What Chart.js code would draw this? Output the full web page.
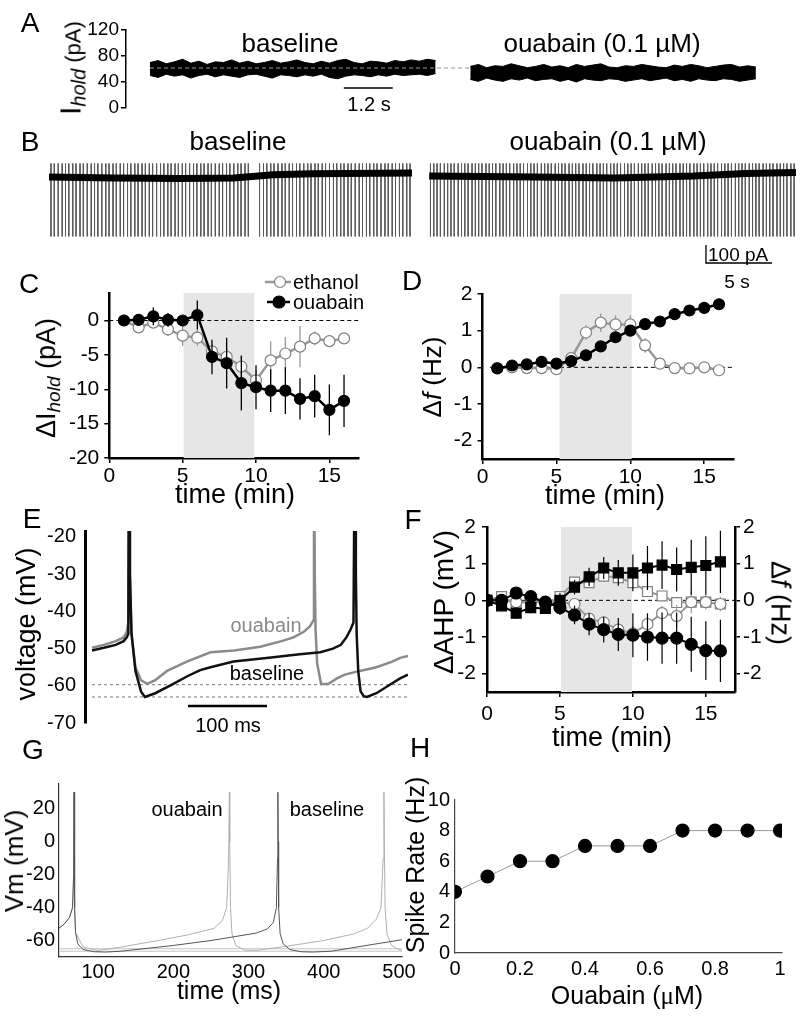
<!DOCTYPE html>
<html>
<head>
<meta charset="utf-8">
<script src="https://cdn.jsdelivr.net/npm/chart.js@4.4.0/dist/chart.umd.min.js"></script>
<style>
  html, body { margin: 0; padding: 0; background: #fff; }
  body { position: relative; width: 800px; height: 1016px; overflow: hidden; font-family: "Liberation Sans", Arial, sans-serif; }
  canvas { position: absolute; left: 0; top: 0; }
  .lbl { position: absolute; white-space: nowrap; line-height: 1; color: #000; z-index: 5; }
  .lbl sub { font-size: 0.72em; vertical-align: -0.25em; }
</style>
</head>
<body>
<canvas id="cA" width="800" height="1016"></canvas>
<canvas id="cB" width="800" height="1016"></canvas>
<canvas id="cC" width="800" height="1016"></canvas>
<canvas id="cD" width="800" height="1016"></canvas>
<canvas id="cE" width="800" height="1016"></canvas>
<canvas id="cF" width="800" height="1016"></canvas>
<canvas id="cG" width="800" height="1016"></canvas>
<canvas id="cH" width="800" height="1016"></canvas>
<script>
const W = 800, H = 1016;
Chart.defaults.font.family = '"Liberation Sans", Arial, sans-serif';
Chart.defaults.color = '#000';

// ---------- data ----------
// A: holding current, noise envelope (pA), one sample every 0.2 s
const aStep = 0.2;
const aBaseStart = 0, aOuaStart = 7.85;
const aBaseUpper = [70,73,68,71,75,69,72,67,71,70,74,69,72,68,70,73,69,71,74,70,68,72,69,73,75,70,68,72,71,69,73,71,74,72,75,73];
const aBaseLower = [50,47,52,49,51,46,50,52,48,51,49,47,51,52,49,46,51,50,48,51,49,52,47,45,49,51,50,48,51,49,52,50,51,52,50,53];
const aOuaUpper = [64,67,62,65,64,68,65,62,64,67,63,65,62,67,64,66,68,63,62,65,64,67,65,63,62,66,64,67,65,62,64,66,67,63,65,63];
const aOuaLower = [44,41,46,43,41,45,43,46,42,44,45,41,44,40,45,43,42,45,44,41,43,45,42,44,46,42,44,41,45,43,42,45,44,41,43,45];
const aMeanLevel = 61.5;

// B: spike times (s) in each cell-attached sweep
const bSpikes1 = [0.15,0.4,0.7,1.0,1.25,1.5,1.8,2.05,2.35,2.6,2.9,3.2,3.45,3.7,4.0,4.3,4.55,4.85,5.1,5.4,5.65,5.95,6.2,6.5,6.75,7.05,7.3,7.6,7.85,8.15,8.45,8.7,9.0,9.25,9.55,9.8,10.1,10.35,10.65,10.95,11.2,11.5,11.75,12.05,12.3,12.6,12.9,13.15,13.45,13.7,14.0,14.3,14.55,14.85,15.1,15.95,16.25,16.5,16.8,17.05,17.35,17.65,17.9,18.2,18.45,18.75,19.0,19.3,19.6,19.85,20.15,20.4,20.7,20.95,21.25,21.55,21.8,22.1,22.35,22.65,22.9,23.2,23.5,23.75,24.05,24.3,24.6,24.85,25.15,25.45,25.7,26.0,26.25,26.55,26.8,27.1,27.35];
const bSpikes2 = [0.1,0.35,0.6,0.85,1.15,1.4,1.65,1.9,2.2,2.45,2.7,2.95,3.25,3.5,3.75,4.0,4.3,4.55,4.8,5.05,5.35,5.6,5.85,6.1,6.4,6.65,6.9,7.15,7.45,7.7,7.95,8.2,8.5,8.75,9.0,9.25,9.55,9.8,10.05,10.3,10.6,10.85,11.1,11.35,11.65,11.9,12.15,12.4,12.7,12.95,13.2,13.45,13.75,14.0,14.25,14.5,14.8,15.05,15.3,15.55,15.85,16.1,16.35,16.6,16.9,17.15,17.4,17.65,17.95,18.2,18.45,18.7,19.0,19.25,19.5,19.75,20.05,20.3,20.55,20.8,21.1,21.35,21.6,21.85,22.15,22.4,22.65,22.9,23.2,23.45,23.7,23.95,24.25,24.5,24.75,25.0,25.3,25.55,25.8,26.05,26.35,26.6,26.85,27.1,27.4,27.65];
const bSpikeUp = 75, bSpikeDown = -330;
const bDriftT1 = [0, 5, 10, 14, 17, 20, 27.5];
const bDrift1 = [0, -5, -8, -6, 12, 18, 22];
const bDriftT2 = [0, 8, 14, 20, 24, 27.8];
const bDrift2 = [5, 0, -5, 5, 20, 25];
const bSweep2Start = 28.8;

// C: change in holding current (pA) per minute
const cTime = [1,2,3,4,5,6,7,8,9,10,11,12,13,14,15,16];
const cOuabain = [0, 0.1, 0.6, 0.1, 0, 0.8, -5.3, -6.2, -9.1, -9.7, -10.2, -10.2, -11.4, -11.0, -13.0, -11.7];
const cOuabainErr = [0.3, 0.5, 1.3, 1.0, 0.6, 2.1, 2.5, 3.7, 4.0, 3.2, 3.1, 3.4, 3.0, 3.1, 3.7, 3.8];
const cEthanol = [0, -1.0, -0.3, -1.3, -2.2, -2.5, -4.5, -5.3, -6.7, -8.7, -5.8, -4.8, -3.8, -2.6, -3.0, -2.6];
const cEthanolErr = [0.3, 0.5, 0.8, 1.0, 1.5, 1.2, 1.0, 1.2, 1.5, 1.5, 2.8, 2.4, 3.0, 1.0, 0.8, 0.6];

// D: change in firing frequency (Hz)
const dTime = [1,2,3,4,5,6,7,8,9,10,11,12,13,14,15,16];
const dOuabain = [-0.03, 0.05, 0.08, 0.15, 0.1, 0.17, 0.33, 0.57, 0.82, 1.0, 1.18, 1.25, 1.45, 1.55, 1.62, 1.72];
const dOuabainErr = [0.05, 0.05, 0.05, 0.06, 0.06, 0.06, 0.08, 0.08, 0.1, 0.1, 0.1, 0.1, 0.1, 0.1, 0.1, 0.1];
const dEthanol = [-0.02, 0.0, -0.02, -0.02, -0.05, 0.25, 0.95, 1.22, 1.17, 1.17, 0.6, 0.1, -0.02, -0.03, 0.0, -0.08];
const dEthanolErr = [0.05, 0.05, 0.05, 0.05, 0.05, 0.1, 0.2, 0.25, 0.25, 0.25, 0.2, 0.1, 0.05, 0.05, 0.05, 0.05];

// E: example voltage traces (ms, mV)
const eOuaT = [0,15,30,40,44,46,47,48,50,55,62,70,80,95,120,150,180,213,240,255,268,276,280,281,282,283,285,290,299,310,320,339,360,380,390,400];
const eOuaV = [-49.8,-49,-48,-47,-45.5,-43,20,-30,-46,-55,-58.5,-59.5,-58.5,-56,-53.5,-51,-50.5,-49.5,-48,-47,-45.5,-44,-42.5,20,-30,-45,-54,-59.5,-59.5,-58,-57,-56,-55,-53.5,-52.5,-52];
const eBaseT = [0,15,30,40,44,46,47,48,50,55,62,67,80,103,120,137,150,179,221,263,289,305,315,322,327,331,333,334,335,337,340,344,348,360,375,390,400];
const eBaseV = [-50.5,-49.8,-49,-48,-47,-46,20,-30,-46,-56,-61.5,-63,-62,-59.5,-57.5,-55.8,-55,-53.5,-52.5,-51.5,-51,-50,-49,-47,-45,-43,20,-30,-46,-56,-61.5,-62.8,-63,-62,-60,-58,-57];
const eAhpOua = -59.7, eAhpBase = -63;

// F: AHP (squares, left axis) and frequency (circles, right axis)
const fTime = [0,1,2,3,4,5,6,7,8,9,10,11,12,13,14,15,16];
const fAhpOua = [0, -0.15, -0.35, -0.2, -0.22, 0, 0.36, 0.64, 0.88, 0.75, 0.75, 0.88, 0.96, 0.84, 0.9, 0.95, 1.05];
const fAhpOuaErr = [0.1, 0.15, 0.15, 0.15, 0.15, 0.2, 0.2, 0.25, 0.3, 0.35, 0.5, 0.6, 0.65, 0.6, 0.75, 0.8, 0.85];
const fAhpEth = [0, 0.1, -0.1, 0, -0.1, 0.1, 0.5, 0.48, 0.66, 0.62, 0.48, 0.24, 0.12, -0.06, -0.05, -0.05, -0.1];
const fAhpEthErr = [0.1, 0.1, 0.1, 0.1, 0.1, 0.12, 0.12, 0.12, 0.15, 0.15, 0.15, 0.12, 0.12, 0.1, 0.1, 0.1, 0.1];
const fFreqOua = [0, 0, 0.2, 0.1, -0.05, -0.2, -0.4, -0.65, -0.8, -0.93, -0.95, -1.0, -1.03, -1.03, -1.2, -1.37, -1.38];
const fFreqOuaErr = [0.1, 0.1, 0.15, 0.15, 0.15, 0.2, 0.25, 0.3, 0.35, 0.45, 0.6, 0.65, 0.7, 0.7, 0.75, 0.8, 0.85];
const fFreqEth = [0, 0, -0.05, -0.05, -0.05, -0.05, -0.1, -0.5, -0.6, -0.8, -0.9, -0.65, -0.35, -0.43, -0.05, -0.05, -0.1];
const fFreqEthErr = [0.1, 0.1, 0.1, 0.1, 0.1, 0.1, 0.1, 0.15, 0.15, 0.15, 0.2, 0.25, 0.2, 0.3, 0.3, 0.2, 0.2];

// G: model traces (ms, mV)
const gBaseT = [48,55,62,66,67.5,68,68.5,69,70,73,80,95,110,130,200,250,290,310,325,333,337,338.5,339,339.5,340,342,346,355,370,385,410,450,504];
const gBaseV = [-52.5,-50,-46,-40,-20,30,0,-40,-55,-62,-65.5,-66.8,-67,-66.5,-63,-60,-57,-55.5,-53,-49,-40,-10,30,0,-40,-56,-62,-65.5,-66.8,-67,-66.5,-63.5,-59.5];
const gOuaT = [48,55,62,66,67.5,68,68.5,69,70,80,100,130,180,220,254,265,271,273.5,274.5,275,276,278,283,295,310,350,400,440,458,470,476,479,480,480.5,481.5,484,490,500,504];
const gOuaV = [-52.5,-50,-46,-40,-20,30,0,-40,-55,-64,-66,-64,-60,-56.5,-52.6,-48,-40,-10,30,0,-40,-56,-63,-65.8,-66,-63.5,-60,-56,-52.6,-47,-40,-10,30,0,-40,-56,-63,-65.5,-66];
const gFloor = [-65, -66.5];

// H: model spike rate vs ouabain
const hOuabain = [0, 0.1, 0.2, 0.3, 0.4, 0.5, 0.6, 0.7, 0.8, 0.9, 1.0];
const hRate = [4, 5, 6, 6, 7, 7, 7, 8, 8, 8, 8];

// ---------- helpers ----------
function pts(xs, ys) { return xs.map((x, i) => ({ x: x, y: ys[i] })); }
function errSegs(xs, ys, es) {
  const out = [];
  xs.forEach((x, i) => { out.push({ x: x, y: ys[i] - es[i] }, { x: x, y: ys[i] + es[i] }, { x: x, y: null }); });
  return out;
}
function spikeSegs(ts, offset) {
  const out = [];
  ts.forEach(t => { out.push({ x: t + offset, y: bSpikeUp }, { x: t + offset, y: bSpikeDown }, { x: t + offset, y: null }); });
  return out;
}
function sampled(start, vals) { return vals.map((v, i) => ({ x: start + i * aStep, y: v })); }

function pad(area, yW, xH, rW) {
  return { left: area[0] - yW, top: area[1], right: W - area[2] - (rW || 0), bottom: H - area[3] - xH };
}
function axis(o) {
  const horiz = o.pos === 'bottom';
  const tl = o.tickLen || 0;
  const a = {
    type: 'linear', position: o.pos, min: o.min, max: o.max,
    display: o.show !== false,
    afterBuildTicks: s => { s.ticks = (o.ticks || []).map(v => ({ value: v })); },
    border: { display: true, color: o.color || '#000', width: o.border || 2.5 },
    grid: { display: tl > 0, drawOnChartArea: false, drawTicks: tl > 0, tickLength: tl, color: o.color || '#000', lineWidth: 1.5 },
    ticks: { font: { size: o.font || 21 }, padding: o.pad || 3, color: '#000', callback: v => String(v), maxRotation: 0, autoSkip: false }
  };
  if (o.fit !== undefined) {
    a.afterFit = s => { if (horiz) s.height = o.fit; else s.width = o.fit; };
  }
  return a;
}
function base(area, yW, xH, rW, extraPlugins) {
  return {
    responsive: false, animation: false, events: [],
    layout: { padding: pad(area, yW, xH, rW) },
    plugins: Object.assign({ legend: { display: false }, tooltip: { enabled: false } }, extraPlugins || {}),
    elements: { line: { tension: 0 }, point: { radius: 0 } }
  };
}
function line(data, o) {
  return Object.assign({ data: data, borderColor: '#000', borderWidth: 1, pointRadius: 0, fill: false, spanGaps: false }, o);
}
function markers(data, o) {
  return Object.assign({ data: data, borderColor: '#000', borderWidth: 2.5, pointRadius: 5.5, pointStyle: 'circle',
    pointBackgroundColor: '#000', pointBorderColor: '#000', pointBorderWidth: 1.2, fill: false }, o);
}
function shade(x0, x1, top, yAxisID) {
  return line([{ x: x0, y: top }, { x: x1, y: top }], { borderWidth: 0, fill: 'start', backgroundColor: '#e6e6e6', order: 30, yAxisID: yAxisID || 'y' });
}
function zeroLine(x0, x1, yAxisID) {
  return line([{ x: x0, y: 0 }, { x: x1, y: 0 }], { borderDash: [4, 3], borderWidth: 1, order: 29, yAxisID: yAxisID || 'y' });
}

const legendSymbols = {
  id: 'legendSymbols',
  afterDraw(chart, args, opts) {
    const ctx = chart.ctx;
    (opts.items || []).forEach(it => {
      ctx.save();
      ctx.strokeStyle = it.line; ctx.lineWidth = 2.5;
      ctx.beginPath(); ctx.moveTo(it.x0, it.y); ctx.lineTo(it.x1, it.y); ctx.stroke();
      ctx.beginPath(); ctx.arc(it.cx, it.y, it.r, 0, Math.PI * 2);
      ctx.fillStyle = it.fill; ctx.fill();
      ctx.lineWidth = 1.2; ctx.strokeStyle = it.stroke; ctx.stroke();
      ctx.restore();
    });
  }
};

function label(html, x, y, size, o) {
  o = o || {};
  const d = document.createElement('div');
  d.className = 'lbl';
  d.innerHTML = html;
  d.style.left = x + 'px';
  d.style.top = y + 'px';
  d.style.fontSize = size + 'px';
  if (o.color) d.style.color = o.color;
  const tx = o.align === 'left' ? '0' : '-50%';
  d.style.transform = 'translate(' + tx + ',-50%) rotate(' + (o.rot || 0) + 'deg)';
  document.body.appendChild(d);
}

// ---------- A ----------
(function () {
  const area = [126, 30, 790, 108];
  const xmin = -(150 - 126) / 40.8;
  const opt = base(area, 60, 0, 0);
  opt.scales = {
    x: axis({ pos: 'bottom', show: false, min: xmin, max: xmin + (790 - 126) / 40.8 }),
    y: axis({ pos: 'left', min: 0, max: 120, ticks: [0, 40, 80, 120], fit: 60, tickLen: 5, border: 1.5, font: 19, pad: 2 })
  };
  new Chart(document.getElementById('cA'), {
    type: 'line',
    data: { datasets: [
      line(sampled(aBaseStart, aBaseUpper), { fill: '+1', backgroundColor: '#000', order: 5 }),
      line(sampled(aBaseStart, aBaseLower), { order: 5 }),
      line(sampled(aOuaStart, aOuaUpper), { fill: '+1', backgroundColor: '#000', order: 5 }),
      line(sampled(aOuaStart, aOuaLower), { order: 5 }),
      line([{ x: 0, y: aMeanLevel }, { x: aOuaStart, y: aMeanLevel }], { borderColor: '#9a9a9a', borderDash: [4, 3], order: 1 }),
      line([{ x: 4.75, y: 30.8 }, { x: 5.95, y: 30.8 }], { borderWidth: 1.5, order: 1 })
    ] },
    options: opt
  });
})();

// ---------- B ----------
(function () {
  const area = [49, 150, 796, 270];
  const opt = base(area, 0, 0, 0);
  opt.scales = {
    x: axis({ pos: 'bottom', show: false, min: 0, max: (796 - 49) / 13.2 }),
    y: axis({ pos: 'left', show: false, min: -516.7, max: 150 })
  };
  new Chart(document.getElementById('cB'), {
    type: 'line',
    data: { datasets: [
      line(spikeSegs(bSpikes1, 0), { borderColor: '#5a5a5a', borderWidth: 1, order: 5 }),
      line(spikeSegs(bSpikes2, bSweep2Start), { borderColor: '#5a5a5a', borderWidth: 1, order: 5 }),
      line(pts(bDriftT1, bDrift1), { borderWidth: 7, order: 2 }),
      line(pts(bDriftT2.map(t => t + bSweep2Start), bDrift2), { borderWidth: 7, order: 2 }),
      line([{ x: 49.77, y: -377.8 }, { x: 49.77, y: -477.8 }, { x: 54.77, y: -477.8 }], { borderWidth: 1.3, order: 1 })
    ] },
    options: opt
  });
})();

// ---------- C ----------
(function () {
  const area = [109.3, 293, 358.7, 458];
  const opt = base(area, 60, 40, 0, { legendSymbols: { items: [
    { x0: 265, x1: 291, cx: 280, y: 282, r: 5.5, line: '#999', fill: '#fff', stroke: '#808080' },
    { x0: 267, x1: 290, cx: 279, y: 302, r: 6, line: '#000', fill: '#000', stroke: '#000' }
  ] } });
  opt.scales = {
    x: axis({ pos: 'bottom', min: 0, max: 17, ticks: [0, 5, 10, 15], fit: 40, tickLen: 5, pad: 1 }),
    y: axis({ pos: 'left', min: -20, max: 4, ticks: [-20, -15, -10, -5, 0], fit: 60, tickLen: 5, pad: 5 })
  };
  new Chart(document.getElementById('cC'), {
    type: 'line',
    data: { datasets: [
      shade(5.05, 9.9, 4),
      zeroLine(0, 17),
      line(errSegs(cTime, cEthanol, cEthanolErr), { borderColor: '#999', borderWidth: 1.3, order: 9 }),
      markers(pts(cTime, cEthanol), { borderColor: '#999', pointBackgroundColor: '#fff', pointBorderColor: '#808080', order: 8 }),
      line(errSegs(cTime, cOuabain, cOuabainErr), { borderWidth: 1.3, order: 3 }),
      markers(pts(cTime, cOuabain), { order: 2 })
    ] },
    options: opt,
    plugins: [legendSymbols]
  });
})();

// ---------- D ----------
(function () {
  const area = [482.5, 294, 733.8, 459];
  const opt = base(area, 60, 40, 0);
  opt.scales = {
    x: axis({ pos: 'bottom', min: 0, max: 17, ticks: [0, 5, 10, 15], fit: 40, tickLen: 5, pad: 1 }),
    y: axis({ pos: 'left', min: -2.5, max: 2, ticks: [-2, -1, 0, 1, 2], fit: 60, tickLen: 5, pad: 5 })
  };
  new Chart(document.getElementById('cD'), {
    type: 'line',
    data: { datasets: [
      shade(5.2, 10.1, 2),
      zeroLine(0.5, 17),
      line(errSegs(dTime, dEthanol, dEthanolErr), { borderColor: '#999', borderWidth: 1.3, order: 9 }),
      markers(pts(dTime, dEthanol), { borderColor: '#999', pointBackgroundColor: '#fff', pointBorderColor: '#808080', order: 8 }),
      line(errSegs(dTime, dOuabain, dOuabainErr), { borderWidth: 1.3, order: 3 }),
      markers(pts(dTime, dOuabain), { order: 2 })
    ] },
    options: opt
  });
})();

// ---------- E ----------
(function () {
  const area = [85, 531, 408, 723];
  const xmin = -(92 - 85) / 0.79;
  const opt = base(area, 60, 0, 0);
  opt.scales = {
    x: axis({ pos: 'bottom', show: false, min: xmin, max: xmin + (408 - 85) / 0.79 }),
    y: axis({ pos: 'left', min: -70, max: -18.4, ticks: [-70, -60, -50, -40, -30, -20], fit: 60, border: 3, font: 20, pad: 9 })
  };
  new Chart(document.getElementById('cE'), {
    type: 'line',
    data: { datasets: [
      line([{ x: 0, y: eAhpOua }, { x: 400, y: eAhpOua }], { borderColor: '#777', borderDash: [3, 3], order: 9 }),
      line([{ x: 0, y: eAhpBase }, { x: 400, y: eAhpBase }], { borderColor: '#777', borderDash: [3, 3], order: 9 }),
      line(pts(eOuaT, eOuaV), { borderColor: '#8a8a8a', borderWidth: 2.5, order: 4, clip: 0 }),
      line(pts(eBaseT, eBaseV), { borderColor: '#111', borderWidth: 2.5, order: 3, clip: 0 }),
      line([{ x: 121.5, y: -65.4 }, { x: 221.5, y: -65.4 }], { borderWidth: 2.5, order: 1 })
    ] },
    options: opt
  });
})();

// ---------- F ----------
(function () {
  const area = [487, 527, 735, 692];
  const opt = base(area, 60, 45, 60);
  opt.scales = {
    x: axis({ pos: 'bottom', min: 0, max: 17, ticks: [0, 5, 10, 15], fit: 45, tickLen: 5, pad: 5 }),
    y: axis({ pos: 'left', min: -2.5, max: 2, ticks: [-2, -1, 0, 1, 2], fit: 60, tickLen: 5, pad: 6 }),
    y2: axis({ pos: 'right', min: -2.5, max: 2, ticks: [-2, -1, 0, 1, 2], fit: 60, tickLen: 5, pad: 3 })
  };
  new Chart(document.getElementById('cF'), {
    type: 'line',
    data: { datasets: [
      shade(5.05, 9.95, 2),
      zeroLine(0, 17),
      line(errSegs(fTime, fAhpEth, fAhpEthErr), { borderColor: '#999', borderWidth: 1.2, order: 12 }),
      markers(pts(fTime, fAhpEth), { borderColor: '#999', borderWidth: 2, pointStyle: 'rect', pointRadius: 7, pointBackgroundColor: '#fff', pointBorderColor: '#808080', order: 11 }),
      line(errSegs(fTime, fFreqEth, fFreqEthErr), { borderColor: '#999', borderWidth: 1.2, order: 10, yAxisID: 'y2' }),
      markers(pts(fTime, fFreqEth), { borderColor: '#999', borderWidth: 2, pointBackgroundColor: '#fff', pointBorderColor: '#808080', order: 9, yAxisID: 'y2' }),
      line(errSegs(fTime, fFreqOua, fFreqOuaErr), { borderWidth: 1.2, order: 5, yAxisID: 'y2' }),
      markers(pts(fTime, fFreqOua), { borderWidth: 2, pointRadius: 6, order: 4, yAxisID: 'y2' }),
      line(errSegs(fTime, fAhpOua, fAhpOuaErr), { borderWidth: 1.2, order: 3 }),
      markers(pts(fTime, fAhpOua), { borderWidth: 2, pointStyle: 'rect', pointRadius: 7, order: 2 })
    ] },
    options: opt
  });
})();

// ---------- G ----------
(function () {
  const area = [59, 784, 402, 957];
  const opt = base(area, 55, 30, 0);
  opt.scales = {
    x: axis({ pos: 'bottom', min: 48, max: 504, ticks: [100, 200, 300, 400, 500], fit: 30, border: 1.2, color: '#333', font: 20, pad: 3 }),
    y: axis({ pos: 'left', min: -70, max: 35, ticks: [-60, -40, -20, 0, 20], fit: 55, border: 1.2, color: '#333', font: 20, pad: 4 })
  };
  new Chart(document.getElementById('cG'), {
    type: 'line',
    data: { datasets: [
      line([{ x: 48, y: gFloor[0] }, { x: 504, y: gFloor[0] }], { borderColor: '#c4c4c4', order: 9 }),
      line([{ x: 48, y: gFloor[1] }, { x: 504, y: gFloor[1] }], { borderColor: '#c4c4c4', order: 9 }),
      line(pts(gOuaT, gOuaV), { borderColor: '#b0b0b0', borderWidth: 1, order: 5 }),
      line(pts(gBaseT, gBaseV), { borderColor: '#555', borderWidth: 1, order: 3 })
    ] },
    options: opt
  });
})();

// ---------- H ----------
(function () {
  const area = [455, 800, 782, 953];
  const opt = base(area, 55, 30, 0);
  opt.scales = {
    x: axis({ pos: 'bottom', min: 0, max: 1.006, ticks: [0, 0.2, 0.4, 0.6, 0.8, 1], fit: 30, border: 1.2, color: '#444', font: 20, pad: 4 }),
    y: axis({ pos: 'left', min: 0, max: 10, ticks: [0, 2, 4, 6, 8, 10], fit: 55, border: 1.2, color: '#444', font: 20, pad: 5 })
  };
  new Chart(document.getElementById('cH'), {
    type: 'line',
    data: { datasets: [
      markers(pts(hOuabain, hRate), { borderColor: '#999', borderWidth: 1, pointRadius: 6.5 })
    ] },
    options: opt
  });
})();

// ---------- text ----------
const LET = 28;
label('A', 30, 23, LET); label('B', 30, 142, LET); label('C', 29, 284, LET); label('D', 412, 281, LET);
label('E', 32, 519, LET); label('F', 413, 520, LET); label('G', 33, 750, LET); label('H', 420, 748, LET);

label('baseline', 290, 43, 26);
label('ouabain (0.1 µM)', 602, 43, 26);
label('1.2 s', 369, 104, 20);
label('<span style="font-size:30px">I</span><sub style="font-size:20px"><i>hold</i></sub><span style="font-size:22px"> (pA)</span>', 72, 68, 22, { rot: -90 });

label('baseline', 238, 141, 26);
label('ouabain (0.1 µM)', 608, 141, 26);
label('100 pA', 708, 254, 19, { align: 'left' });
label('5 s', 737, 281, 19);

label('ΔI<sub style="font-size:19px"><i>hold</i></sub> (pA)', 48, 378, 27, { rot: -90 });
label('time (min)', 235, 494, 27);
label('ethanol', 293, 282, 20, { align: 'left' });
label('ouabain', 293, 302, 20, { align: 'left' });

label('Δ<i>f</i> (Hz)', 432, 377, 26, { rot: -90 });
label('time (min)', 605, 495, 27);

label('voltage (mV)', 26, 624, 27, { rot: -90 });
label('ouabain', 266, 625, 20, { color: '#8a8a8a' });
label('baseline', 267, 673, 20);
label('100 ms', 228, 725, 20);

label('ΔAHP (mV)', 444, 602, 28, { rot: -90 });
label('Δ<i>f</i> (Hz)', 780, 603, 27, { rot: 90 });
label('time (min)', 612, 737, 27);

label('Vm (mV)', 14, 861, 26, { rot: -90 });
label('ouabain', 187, 809, 20);
label('baseline', 327, 809, 20);
label('time (ms)', 229, 990, 25);

label('Spike Rate (Hz)', 415, 865, 25, { rot: -90 });
label('Ouabain (<span style="font-family:\'Liberation Serif\',serif">μ</span>M)', 627, 995, 25);
</script>
</body>
</html>
